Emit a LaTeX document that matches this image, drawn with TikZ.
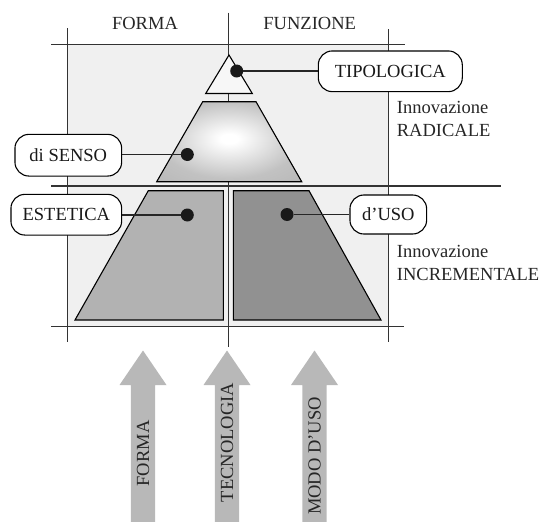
\documentclass[tikz,border=0pt]{standalone}
\usepackage{fontspec}
\setmainfont{Liberation Serif}
\pgfdeclareradialshading{glow}{\pgfpoint{0bp}{2bp}}{color(0bp)=(white); color(3bp)=(white); color(24bp)=(black!24); color(50bp)=(black!32)}
\begin{document}
\begin{tikzpicture}[x=1pt,y=-1pt, font=\fontsize{18.5}{23}\selectfont,
  gridline/.style={line width=1.3pt, draw=black!80},
  shapeline/.style={line width=1.1pt, draw=black},
  tag/.style={draw=black, line width=1.1pt, fill=white, rounded corners=14pt, inner sep=0pt, text=black!90},
  dot/.style={circle, fill=black!90, minimum size=13pt, inner sep=0pt},
  conn/.style={line width=1.3pt, draw=black!85},
  bigarrow/.style={fill=black!28},
  arrowtext/.style={rotate=90, text=black!85, inner sep=0pt},
  plain/.style={text=black!85, inner sep=0pt}
]
\useasboundingbox (0,0) rectangle (544,522);
% background field
\fill[black!6] (67.7,44.3) rectangle (388.5,326.7);
% grid
\draw[gridline] (228.7,12.7) -- (228.7,346.7);
\draw[gridline] (67.7,28) -- (67.7,341.7);
\draw[gridline] (388.5,29.3) -- (388.5,341.7);
\draw[gridline] (51,44.3) -- (405,44.3);
\draw[gridline] (51,186) -- (501,186);
\draw[gridline] (51,326.7) -- (404,326.7);
% headings
\node[plain, anchor=base] (hforma) at (145,29.3) {FORMA};
\node[plain, anchor=base] (hfunz) at (309.7,29.3) {FUNZIONE};
% pyramid
\draw[shapeline, fill=black!3] (229,55) -- (252.3,93.5) -- (205.7,93.5) -- cycle;
\shadedraw[shapeline, shading=glow] (202.7,101.7) -- (256,101.7) -- (301.7,181.7) -- (156.7,181.7) -- cycle;
\draw[shapeline, fill=black!30] (148.3,190.7) -- (223.3,190.7) -- (223.3,320) -- (75,320) -- cycle;
\draw[shapeline, fill=black!43] (233.3,190.7) -- (309,190.7) -- (381,320) -- (233.3,320) -- cycle;
% dots
\node[dot] (d1) at (236.7,71) {};
\node[dot] (d2) at (187.3,154.5) {};
\node[dot] (d3) at (187.3,215) {};
\node[dot] (d4) at (287,214.5) {};
% tags
\node[tag, minimum width=144pt, minimum height=40.7pt] (tip) at (390.3,71.3) {TIPOLOGICA};
\node[tag, minimum width=106.7pt, minimum height=41.7pt] (senso) at (68.3,155.2) {di SENSO};
\node[tag, minimum width=110.7pt, minimum height=40.7pt] (est) at (66.3,214.7) {ESTETICA};
\node[tag, minimum width=76.7pt, minimum height=39pt] (uso) at (388.3,214.5) {d’USO};
% connectors
\draw[conn] (d1.east) -- (d1.east -| tip.west);
\draw[conn] (d2.west) -- (d2.west -| senso.east);
\draw[conn] (d3.west) -- (d3.west -| est.east);
\draw[conn] (d4.east) -- (d4.east -| uso.west);
% side texts
\node[plain, anchor=base west] (inn1) at (396.7,113.3) {Innovazione};
\node[plain, anchor=base west] (rad) at (396.7,136.7) {RADICALE};
\node[plain, anchor=base west] (inn2) at (396.7,257.3) {Innovazione};
\node[plain, anchor=base west] (incr) at (396.7,280) {INCREMENTALE};
% big arrows
\fill[bigarrow] (130.8,523) -- (130.8,385) -- (119.5,385) -- (143,350.5) -- (166.5,385) -- (155.2,385) -- (155.2,523) -- cycle;
\fill[bigarrow] (214.8,523) -- (214.8,385) -- (203.5,385) -- (227,350.5) -- (250.5,385) -- (239.2,385) -- (239.2,523) -- cycle;
\fill[bigarrow] (302.3,523) -- (302.3,385) -- (291,385) -- (314.5,350.5) -- (338,385) -- (326.7,385) -- (326.7,523) -- cycle;
\node[arrowtext] (fa) at (143,453.5) {FORMA};
\node[arrowtext] (ta) at (227,442.5) {TECNOLOGIA};
\node[arrowtext] (ma) at (314.5,456) {MODO D’USO};
\end{tikzpicture}
\end{document}
